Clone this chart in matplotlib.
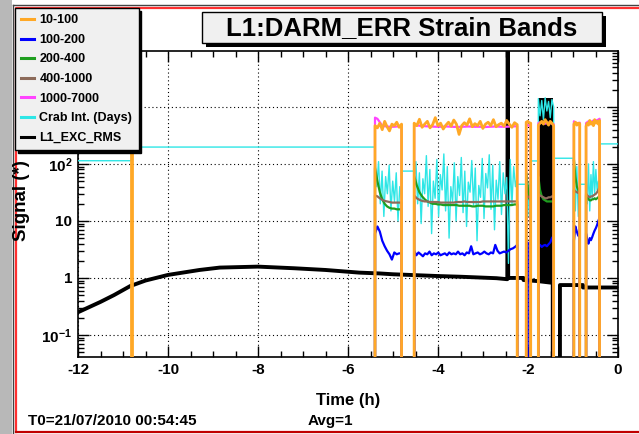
import numpy as np
import matplotlib
matplotlib.use("Agg")
import matplotlib.pyplot as plt
from matplotlib import ticker
from matplotlib.patches import Rectangle
from matplotlib.lines import Line2D

plt.rcParams['font.family'] = ['Liberation Sans', 'DejaVu Sans']
plt.rcParams['font.weight'] = 'bold'
plt.rcParams['axes.labelweight'] = 'bold'
plt.rcParams['mathtext.fontset'] = 'custom'
plt.rcParams['mathtext.rm'] = 'Liberation Sans:bold'
plt.rcParams['mathtext.it'] = 'Liberation Sans:bold:italic'
plt.rcParams['mathtext.bf'] = 'Liberation Sans:bold'
plt.rcParams['mathtext.default'] = 'rm'

W, H = 639, 434

# ---- data (time in hours before T0) ----
# periods when the band monitor was running
segments = [(-5.40, -4.81), (-4.53, -2.24), (-2.04, -1.94),
            (-1.77, -1.43), (-0.98, -0.85), (-0.71, -0.41)]

band_10_100 = [
    [470, 430, 520, 400, 560, 450, 380, 500, 470, 540, 440, 500],
    [520, 470, 610, 440, 500, 560, 430, 490, 650, 470, 520, 410, 480, 540,
     460, 590, 500, 330, 470, 530, 480, 620, 450, 510, 470, 560, 420, 500,
     540, 470, 600, 450, 490, 520, 460, 580, 500, 440, 530, 490],
    [540, 560, 530, 520],
    [480, 520, 560, 500, 600, 540, 480, 560, 520, 470],
    [500, 540, 480, 520, 510],
    [460, 520, 480, 580, 500, 540, 470, 600, 520, 560, 500, 580],
]
spike_10_100_t = [-10.815, -10.805]
spike_10_100_v = [480, 480]

band_100_200 = [
    [6.0, 8.0, 6.5, 4.5, 3.6, 3.0, 2.6, 2.1, 2.8, 2.6, 2.7, 2.7],
    [3.0, 2.5, 2.8, 2.6, 2.4, 2.7, 2.6, 2.9, 2.5, 2.7, 2.6, 2.8, 2.5, 2.6,
     2.7, 2.5, 2.8, 2.6, 2.7, 2.6, 2.9, 2.6, 2.7, 2.5, 2.8, 2.7, 3.6, 2.6,
     2.7, 2.8, 2.6, 2.7, 2.9, 2.7, 2.6, 2.8, 2.7, 3.8, 3.0, 2.7, 2.8, 2.9,
     2.8, 3.0, 3.2, 3.3, 3.5, 3.8],
    [3.8, 4.2, 0, 0],
    [3.6, 3.8, 3.5, 3.7, 3.8, 3.6, 3.9, 4.2, 5.0, 5.5],
    [4.5, 8.0, 6.5, 5.5, 6.0],
    [6.0, 4.5, 4.0, 5.0, 4.6, 5.2, 6.0, 6.8, 7.5, 8.5, 10, 11.5],
]

band_200_400 = [
    [85, 50, 32, 24, 20, 18, 17, 16.5, 16.5, 16, 16, 16],
    [62, 42, 32, 27, 24, 22, 21, 20, 20, 19.5, 19.5, 19, 19, 19, 19, 19,
     19, 18.5, 18.5, 18.5, 18.5, 18.5, 18, 18, 18.5, 18.5, 18.5, 18, 18, 18,
     18, 18.5, 18.5, 18.5, 19, 19, 19, 19, 19.5, 19.5],
    [70, 40, 25, 22],
    [60, 35, 27, 24, 23, 22, 22, 22, 22, 22],
    [120, 60, 40, 35, 30],
    [28, 26, 24, 23, 23, 24, 24, 25, 24, 25, 26, 28],
]

band_400_1000 = [
    [28, 27, 25, 23.5, 22.5, 22, 21.5, 21, 21, 21, 21, 21],
    [28, 25, 23.5, 22.5, 22, 22, 21.5, 21.5, 21.5, 21.5, 21, 21, 21, 21,
     21, 21, 21.5, 21.5, 21.5, 22, 21.5, 21.5, 21.5, 21.5, 21.5, 21.5, 22,
     22, 22, 22, 22, 22, 22, 22, 22, 22, 22, 22, 22, 22],
    [28, 27, 26, 26],
    [30, 28, 27, 26, 25, 25, 26, 26, 27, 27],
    [35, 33, 32, 31, 32],
    [30, 28, 27, 26, 27, 27, 28, 29, 30, 32, 35, 40],
]

band_1000_7000 = [
    [650, 620, 540, 470, 460, 455, 450, 450, 450, 455, 460, 470],
    [480, 470, 460, 455, 450, 450, 455, 450, 445, 450, 455, 450, 450, 445,
     450, 455, 450, 450, 455, 460],
    [500, 480, 470, 470],
    [520, 540, 530, 520, 510, 520, 530, 520, 510, 500],
    [560, 540, 520, 520, 530],
    [520, 540, 560, 550, 540, 560, 580, 560, 570, 590, 600, 620],
]

# Crab integration: flat while the bands are off, noisy while on
crab_flat = [(-12.0, -10.81, 114), (-10.81, -5.40, 198), (-4.81, -4.53, 75),
             (-2.24, -2.04, 44), (-1.94, -1.77, 113), (-1.43, -0.98, 126),
             (-0.85, -0.71, 44), (-0.41, 0.0, 225)]
crab_noise = [
    [140, 40, 110, 20, 75, 12, 60, 30, 95, 15, 50, 22, 70, 10, 40, 25],
    [45, 110, 20, 70, 9, 55, 30, 140, 18, 80, 6, 50, 25, 120, 12, 65, 35,
     150, 15, 90, 5, 40, 22, 105, 10, 60, 28, 130, 14, 75, 8, 48, 32, 115,
     19, 85, 4.5, 42, 26, 125, 11, 68, 38, 145, 16, 95, 7, 52, 24, 110, 13,
     70, 30, 58, 1.8, 120, 20, 90, 40, 60],
    [60, 12, 45, 20],
    [1400, 700, 1300, 600, 1450, 850, 1250, 650, 1350, 1000],
    [70, 15, 90, 12, 45],
    [60, 20, 100, 15, 65, 25, 110, 30, 80, 35, 50, 40],
]

rms_t = [-12.0, -11.5, -11.2, -10.84, -10.5, -10.0, -9.3, -8.85, -8.0, -7.2,
         -6.5, -5.75, -5.3, -5.0, -4.0, -3.5, -2.7, -2.46, -2.45, -2.44,
         -2.1, -2.1, -1.78, -1.45, -1.45, -1.29, -1.29, -0.78, -0.78, 0.0]
rms_v = [0.25, 0.38, 0.5, 0.72, 0.9, 1.13, 1.38, 1.52, 1.58, 1.48,
         1.38, 1.24, 1.2, 1.16, 1.08, 1.05, 0.99, 0.95, 3e4, 1.0,
         1.0, 0.92, 0.88, 0.82, 0, 0, 0.75, 0.75, 0.68, 0.68]
burst_t = [-1.78, -1.45]
burst_lo = [0.85, 0.85]
burst_hi = [1450, 1450]


def band_series(segs, vals):
    t, v = [], []
    for (a, b), seg in zip(segs, vals):
        t += [a] + list(np.linspace(a, b, len(seg))) + [b]
        v += [0] + list(seg) + [0]
    return t, v


def crab_series():
    t, v = [], []
    a, b, c = crab_flat[0]
    t += [a, b]; v += [c, c]
    for k, (a, b, c) in enumerate(crab_flat[1:]):
        t += [a, b]; v += [c, c]
        if k < len(segments):
            s0, s1 = segments[k]
            t += list(np.linspace(s0, s1, len(crab_noise[k])))
            v += crab_noise[k]
    return t, v


fig = plt.figure(figsize=(W / 100, H / 100), dpi=100)
ax = fig.add_axes([78 / W, 1 - 357 / H, 540 / W, 306 / H])

# black monitor first (underneath)
ax.fill_between(burst_t, burst_lo, burst_hi, color='black', lw=0, zorder=2)
ax.plot(rms_t, rms_v, color='black', lw=2.8, zorder=2)

ct, cv = crab_series()
ax.plot(ct, cv, color='#2ee6e6', lw=1.0, zorder=3)

colors = {'10-100': '#ffa826', '100-200': '#0000ff', '200-400': '#1f9e1f',
          '400-1000': '#8c6b5a', '1000-7000': '#ff44ff'}
for name, vals, z in [('100-200', band_100_200, 4), ('200-400', band_200_400, 5),
                      ('400-1000', band_400_1000, 6), ('1000-7000', band_1000_7000, 7)]:
    t, v = band_series(segments, vals)
    ax.plot(t, v, color=colors[name], lw=1.6, zorder=z)

t, v = band_series(segments, band_10_100)
ax.plot(t, v, color=colors['10-100'], lw=2.0, zorder=8)
ax.plot([spike_10_100_t[0]] + spike_10_100_t + [spike_10_100_t[1]],
        [0] + spike_10_100_v + [0], color=colors['10-100'], lw=2.0, zorder=8)

ax.set_yscale('log')
ax.set_xlim(-12, 0)
ax.set_ylim(0.041, 9600)
ax.xaxis.set_major_locator(ticker.MultipleLocator(2))
ax.xaxis.set_minor_locator(ticker.MultipleLocator(0.5))
ax.xaxis.set_major_formatter(ticker.FuncFormatter(lambda x, p: '%d' % round(x)))
# the 10^3 label sits under the legend in the original, so it is left blank
ytk = [0.1, 1, 10, 100, 1000]
ax.yaxis.set_major_locator(ticker.FixedLocator(ytk))
ax.yaxis.set_major_formatter(ticker.FixedFormatter(
    ['$10^{-1}$', '1', '10', '$10^{2}$', '']))
ax.yaxis.set_minor_locator(ticker.LogLocator(base=10, subs=np.arange(2, 10), numticks=100))
ax.yaxis.set_minor_formatter(ticker.NullFormatter())
ax.tick_params(which='both', direction='in', top=True, right=True, width=1, labelsize=11)
ax.tick_params(which='major', length=8, pad=4)
ax.tick_params(which='minor', length=4)
ax.grid(True, which='major', color='black', ls=(0, (1, 2.5)), lw=0.8)
for s in ax.spines.values():
    s.set_linewidth(1.2)
ax.set_xlabel('Time (h)', fontsize=12, fontweight='bold', labelpad=12)


def px(x, y):
    return x / W, 1 - y / H


# canvas frame
fig.add_artist(Rectangle(px(0, H), 12 / W, 1, transform=fig.transFigure,
                         color='#b8b8b8', lw=0, zorder=0))
fig.add_artist(Line2D([13 / W, 13 / W], [0, 1 - 5 / H], transform=fig.transFigure,
                      color='#444444', lw=1))
fig.add_artist(Line2D([13 / W, 1], [1 - 5 / H, 1 - 5 / H], transform=fig.transFigure,
                      color='#444444', lw=1))
fig.add_artist(Line2D([15.5 / W, 15.5 / W, 1], [1 - 432 / H, 1 - 7.5 / H, 1 - 7.5 / H],
                      transform=fig.transFigure, color='#ff3030', lw=1.6))
fig.add_artist(Line2D([15.5 / W, 1], [1 - 431.5 / H, 1 - 431.5 / H],
                      transform=fig.transFigure, color='#c00000', lw=1.6))

# title box
fig.add_artist(Rectangle(px(206, 47), 400 / W, 31 / H, transform=fig.transFigure,
                         facecolor='black', lw=0, zorder=4))
fig.add_artist(Rectangle(px(202, 43), 400 / W, 31 / H, transform=fig.transFigure,
                         facecolor='#f0f0f0', edgecolor='black', lw=1, zorder=4))
fig.text(*px(402, 28), 'L1:DARM_ERR Strain Bands', fontsize=18.5, ha='center',
         va='center', zorder=5)

fig.text(*px(22, 241), 'Signal (*)', fontsize=13.5, rotation=90, ha='center',
         va='bottom')
fig.text(*px(28, 425), 'T0=21/07/2010 00:54:45', fontsize=11, ha='left', va='baseline')
fig.text(*px(308, 425), 'Avg=1', fontsize=11, ha='left', va='baseline')

labels = ['10-100', '100-200', '200-400', '400-1000', '1000-7000',
          'Crab Int. (Days)', 'L1_EXC_RMS']
handle_colors = [colors['10-100'], colors['100-200'], colors['200-400'],
                 colors['400-1000'], colors['1000-7000'], '#2ee6e6', 'black']
handles = [Line2D([], [], color=c, lw=2.2) for c in handle_colors]
leg = fig.legend(handles, labels, loc='upper left', bbox_to_anchor=px(15, 8),
                 fontsize=9, frameon=True, fancybox=False,
                 shadow={'color': 'black', 'alpha': 1}, borderaxespad=0,
                 borderpad=0.5, handlelength=1.05, handletextpad=0.4,
                 labelspacing=0.61, edgecolor='black', facecolor='#f0f0f0',
                 framealpha=1)
leg.get_frame().set_linewidth(1.0)
leg.set_zorder(10)

fig.savefig('out.png', dpi=100)
